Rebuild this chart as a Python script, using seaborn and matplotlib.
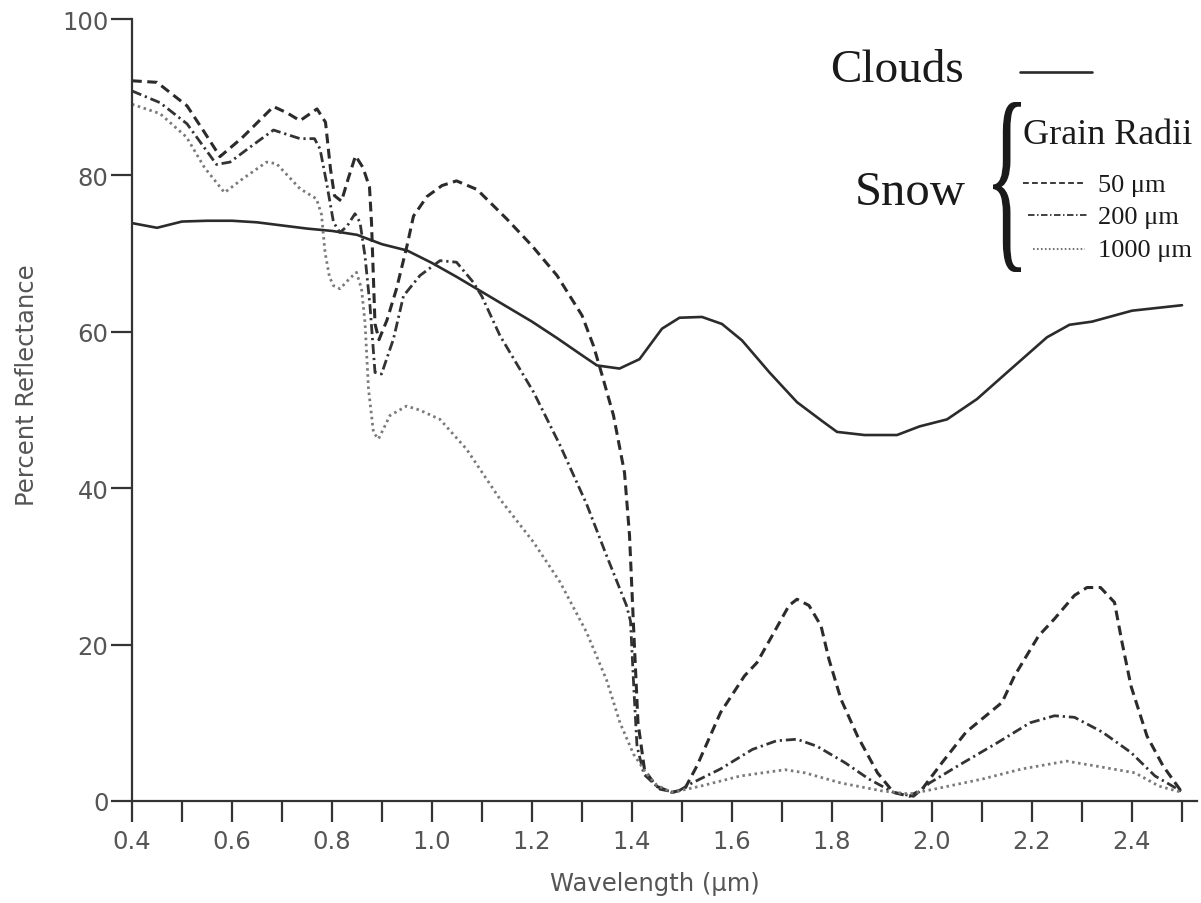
import numpy as np
import pandas as pd
import matplotlib
matplotlib.use("Agg")
import matplotlib.pyplot as plt
import seaborn as sns
from matplotlib.lines import Line2D
from matplotlib.textpath import TextPath
from matplotlib.patches import PathPatch
from matplotlib.font_manager import FontProperties
from matplotlib.transforms import Affine2D
from matplotlib.ticker import MultipleLocator, FormatStrFormatter

# ---------------- data ----------------
cloud_x = [0.40, 0.45, 0.50, 0.55, 0.60, 0.65, 0.70, 0.75, 0.80, 0.85, 0.90, 0.95, 1.00, 1.05,
           1.10, 1.15, 1.20, 1.25, 1.30, 1.33, 1.375, 1.415, 1.46, 1.495, 1.54, 1.58, 1.62,
           1.675, 1.73, 1.78, 1.81, 1.865, 1.93, 1.975, 2.03, 2.09, 2.15, 2.23, 2.275, 2.32,
           2.40, 2.50]
cloud_y = [73.9, 73.3, 74.1, 74.2, 74.2, 74.0, 73.6, 73.2, 72.9, 72.4, 71.2, 70.4, 68.8, 67.0,
           65.1, 63.2, 61.3, 59.2, 57.0, 55.7, 55.3, 56.5, 60.4, 61.8, 61.9, 61.0, 58.9,
           54.8, 51.0, 48.6, 47.2, 46.8, 46.8, 47.9, 48.8, 51.4, 54.8, 59.3, 60.9, 61.3,
           62.7, 63.4]

snow50_x = [0.40, 0.45, 0.51, 0.545, 0.576, 0.62, 0.683, 0.71, 0.736, 0.77, 0.787, 0.797,
            0.805, 0.819, 0.832, 0.847, 0.862, 0.875, 0.879, 0.886, 0.894, 0.91, 0.929, 0.95,
            0.963, 0.99, 1.02, 1.049, 1.09, 1.15, 1.20, 1.25, 1.30, 1.323, 1.34, 1.363, 1.385,
            1.395, 1.404, 1.412, 1.425, 1.448, 1.48, 1.505, 1.53, 1.577, 1.625, 1.65, 1.68,
            1.714, 1.73, 1.754, 1.778, 1.794, 1.818, 1.851, 1.891, 1.923, 1.955, 1.98, 2.02,
            2.068, 2.14, 2.165, 2.213, 2.245, 2.285, 2.31, 2.337, 2.365, 2.38, 2.398, 2.43,
            2.462, 2.50]
snow50_y = [92.1, 91.9, 88.9, 85.5, 82.4, 84.8, 88.8, 88.0, 87.0, 88.5, 86.8, 80.8,
            77.4, 76.7, 79.5, 82.5, 81.0, 78.5, 74.0, 61.0, 59.0, 61.5, 65.5, 71.0,
            74.8, 77.3, 78.7, 79.3, 78.2, 74.4, 71.0, 67.2, 62.1, 58.2, 54.5, 49.3, 42.0,
            34.0, 21.0, 10.0, 4.0, 1.9, 1.1, 1.5, 4.5, 11.3, 16.0, 17.7, 21.1,
            25.0, 25.8, 25.0, 22.4, 18.1, 13.0, 8.3, 3.6, 1.1, 0.6, 1.5, 4.9,
            8.8, 12.6, 16.0, 21.1, 23.3, 26.3, 27.3, 27.3, 25.4, 20.3, 14.7, 8.3,
            4.5, 1.1]

snow200_x = [0.40, 0.456, 0.51, 0.569, 0.596, 0.64, 0.683, 0.736, 0.765, 0.776, 0.789, 0.803,
             0.816, 0.83, 0.846, 0.856, 0.866, 0.876, 0.886, 0.899, 0.923, 0.943, 0.976, 1.016,
             1.049, 1.083, 1.10, 1.136, 1.203, 1.256, 1.309, 1.349, 1.389, 1.397, 1.404, 1.41,
             1.424, 1.456, 1.488, 1.52, 1.577, 1.641, 1.689, 1.73, 1.77, 1.826, 1.874, 1.923,
             1.963, 1.995, 2.052, 2.132, 2.196, 2.245, 2.285, 2.341, 2.398, 2.446, 2.50]
snow200_y = [90.8, 89.3, 86.6, 81.4, 81.7, 83.8, 85.8, 84.7, 84.7, 83.4, 79.1, 74.0,
             72.7, 73.5, 75.1, 74.0, 69.7, 63.3, 54.8, 54.6, 59.1, 64.6, 67.2, 69.1,
             68.9, 66.3, 64.5, 59.5, 52.3, 45.5, 38.0, 31.4, 25.0, 23.0, 14.0, 7.0,
             3.4, 1.5, 1.1, 2.3, 4.1, 6.6, 7.7, 7.9, 7.0, 4.9, 2.8, 1.1,
             0.6, 2.3, 4.5, 7.5, 10.0, 10.9, 10.7, 8.8, 6.2, 3.2, 1.2]

snow1000_x = [0.40, 0.456, 0.509, 0.545, 0.585, 0.62, 0.669, 0.689, 0.736, 0.769, 0.779, 0.786,
              0.795, 0.803, 0.816, 0.835, 0.849, 0.859, 0.866, 0.873, 0.883, 0.893, 0.916, 0.949,
              0.975, 1.016, 1.069, 1.136, 1.203, 1.256, 1.309, 1.349, 1.376, 1.403, 1.429, 1.45,
              1.48, 1.537, 1.617, 1.706, 1.746, 1.818, 1.899, 1.955, 2.003, 2.10, 2.18, 2.269,
              2.325, 2.406, 2.454, 2.50]
snow1000_y = [89.1, 87.9, 84.9, 81.0, 77.8, 79.5, 81.7, 81.5, 78.3, 77.0, 75.0, 70.2,
              67.0, 65.9, 65.5, 66.8, 67.6, 65.5, 61.2, 52.7, 47.1, 46.3, 49.3, 50.5,
              50.0, 48.8, 45.0, 38.6, 33.1, 28.0, 21.6, 15.5, 10.0, 6.0, 3.5, 2.0,
              1.1, 1.9, 3.2, 4.0, 3.6, 2.3, 1.3, 0.9, 1.5, 2.8, 4.1, 5.1,
              4.5, 3.6, 1.9, 1.1]

x_ticks = [0.4, 0.6, 0.8, 1.0, 1.2, 1.4, 1.6, 1.8, 2.0, 2.2, 2.4]
y_ticks = [0, 20, 40, 60, 80, 100]
grain_labels = ["50 \u03bcm", "200 \u03bcm", "1000 \u03bcm"]

# ---------------- style ----------------
sns.set_style("ticks")
plt.rcParams["font.family"] = ["DejaVu Sans"]

W, H = 1201, 904
fig = plt.figure(figsize=(W / 100, H / 100), dpi=100)
ax = fig.add_axes([132 / W, 102 / H, 1065 / W, 782 / H])

dark = "#2b2b2b"
series = [
    ("Clouds", cloud_x, cloud_y, dict(color=dark, lw=1.9, linestyle="-")),
    ("50", snow50_x, snow50_y, dict(color=dark, lw=2.2, linestyle=(0, (3.2, 1.8)))),
    ("200", snow200_x, snow200_y, dict(color="#333333", lw=2.0, linestyle=(0, (3.6, 1.4, 0.8, 1.4)))),
    ("1000", snow1000_x, snow1000_y, dict(color="#7a7a7a", lw=2.0, linestyle=(0, (0.9, 1.3)))),
]
for name, xs, ys, kw in series:
    df = pd.DataFrame({"Wavelength": xs, "Reflectance": ys})
    sns.lineplot(data=df, x="Wavelength", y="Reflectance", ax=ax, estimator=None,
                 sort=False, legend=False, **kw)

ax.set_xlim(0.4, 2.53)
ax.set_ylim(0, 100)
ax.xaxis.set_major_locator(MultipleLocator(0.2))
ax.xaxis.set_minor_locator(MultipleLocator(0.1))
ax.xaxis.set_major_formatter(FormatStrFormatter("%.1f"))
ax.set_xticks(x_ticks)
ax.set_yticks(y_ticks)
ax.set_yticklabels([str(v) for v in y_ticks])

for side in ["top", "right"]:
    ax.spines[side].set_visible(False)
for side in ["left", "bottom"]:
    ax.spines[side].set_color("#333333")
    ax.spines[side].set_linewidth(1.6)

ax.tick_params(axis="both", which="both", direction="out", length=15, width=1.6,
               color="#333333", labelsize=17.5, labelcolor="#555555")
ax.tick_params(axis="x", pad=5)
ax.tick_params(axis="y", pad=2)

ax.set_xlabel("Wavelength (\u03bcm)", fontsize=17.5, color="#555555")
ax.set_ylabel("Percent Reflectance", fontsize=17.5, color="#555555")
ax.xaxis.set_label_coords((655 - 132) / 1065, (802 - 872) / 782)
ax.yaxis.set_label_coords((39 - 132) / 1065, (802 - 385) / 782)

# ---------------- hand-made legend ----------------
serif = ["Liberation Serif", "DejaVu Serif"]
fig.text(830 / W, 1 - 82 / H, "Clouds", fontsize=34, family=serif, color="#1a1a1a",
         ha="left", va="baseline")
fig.add_artist(Line2D([1020 / W, 1092 / W], [1 - 73 / H, 1 - 73 / H],
                      transform=fig.transFigure, color=dark, lw=1.9))
fig.text(855 / W, 1 - 205 / H, "Snow", fontsize=35, family=serif, color="#1a1a1a",
         ha="left", va="baseline")
fig.text(1023 / W, 1 - 144 / H, "Grain Radii", fontsize=26, family=serif, color="#1a1a1a",
         ha="left", va="baseline")

# brace
tp = TextPath((0, 0), "{", size=100, prop=FontProperties(family="Liberation Serif"))
ext = tp.get_extents()
X0, X1 = 993 / W, 1021 / W
Y0, Y1 = 1 - 273 / H, 1 - 103 / H
tr = (Affine2D().translate(-ext.x0, -ext.y0)
      .scale((X1 - X0) / ext.width, (Y1 - Y0) / ext.height)
      .translate(X0, Y0))
fig.add_artist(PathPatch(tr.transform_path(tp), transform=fig.transFigure,
                         facecolor="#1a1a1a", edgecolor="none"))

leg_rows = [
    (184, 192, 1023, 1085, dict(color=dark, lw=1.3, linestyle=(0, (3.2, 1.8)))),
    (216, 224, 1028, 1087, dict(color="#333333", lw=1.3, linestyle=(0, (3.6, 1.4, 0.8, 1.4)))),
    (250, 257, 1033, 1085, dict(color="#666666", lw=1.3, linestyle=(0, (0.9, 1.3)))),
]
for (ly, ty, lx0, lx1, kw), lab in zip(leg_rows, grain_labels):
    fig.add_artist(Line2D([lx0 / W, lx1 / W], [1 - ly / H, 1 - ly / H],
                          transform=fig.transFigure, **kw))
    fig.text(1098 / W, 1 - ty / H, lab, fontsize=19, family=serif, color="#1a1a1a",
             ha="left", va="baseline")

fig.savefig("out.png", dpi=100)
